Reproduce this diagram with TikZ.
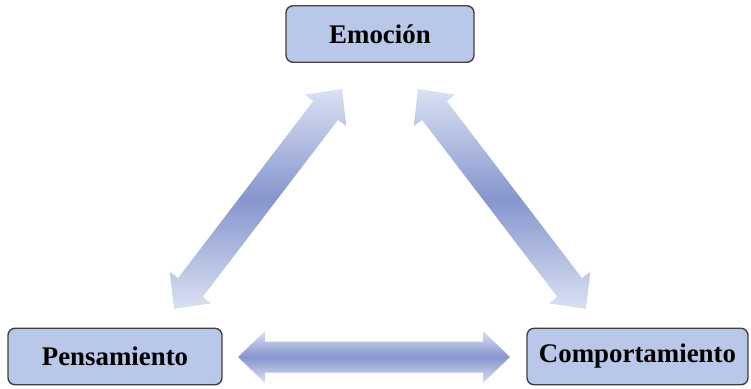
\documentclass[tikz,border=0pt]{standalone}
\usepackage{fontspec}
\setmainfont{Liberation Serif}
\usepackage{tikz}
\usetikzlibrary{calc}

\definecolor{cajaazul}{RGB}{185,200,232}
\definecolor{flechaclara}{RGB}{218,225,242}
\definecolor{flechaoscura}{RGB}{134,150,206}

% flecha doble gruesa entre dos puntos
\newcommand{\flechadoble}[2]{%
  \shade[top color=flechaclara, bottom color=flechaclara, middle color=flechaoscura]
    (#1) -- ($($(#1)!0.54cm!(#2)$)!0.52cm!90:(#2)$)
    -- ($($(#1)!0.54cm!(#2)$)!0.31cm!90:(#2)$)
    -- ($($(#2)!0.54cm!(#1)$)!0.31cm!-90:(#1)$)
    -- ($($(#2)!0.54cm!(#1)$)!0.52cm!-90:(#1)$)
    -- (#2)
    -- ($($(#2)!0.54cm!(#1)$)!0.52cm!90:(#1)$)
    -- ($($(#2)!0.54cm!(#1)$)!0.31cm!90:(#1)$)
    -- ($($(#1)!0.54cm!(#2)$)!0.31cm!-90:(#2)$)
    -- ($($(#1)!0.54cm!(#2)$)!0.52cm!-90:(#2)$)
    -- cycle;}

\tikzset{
  caja/.style={draw=black!75, line width=0.8pt, fill=cajaazul, rounded corners=4pt,
    minimum height=1.13cm, font=\fontsize{15.3}{18}\selectfont\bfseries}
}

\begin{document}
\begin{tikzpicture}[x=0.02cm, y=-0.02cm]
    \useasboundingbox (0,0) rectangle (751,389);

    % Cajas
    \node[caja, minimum width=3.76cm] (emo) at (380,34) {Emoción};
    \node[caja, minimum width=4.28cm] (pens) at (115,356.5) {Pensamiento};
    \node[caja, minimum width=4.42cm] (comp) at (637.5,356.5) {Comportamiento};

    % Puntas de las flechas
    \coordinate (pe) at (174,309);
    \coordinate (ep) at (342,89);
    \coordinate (ec) at (418,89);
    \coordinate (ce) at (586,309);
    \coordinate (pc) at (238,357);
    \coordinate (cp) at (510,357);

    % Flechas
    \flechadoble{pe}{ep}
    \flechadoble{ec}{ce}
    \flechadoble{pc}{cp}
\end{tikzpicture}
\end{document}
